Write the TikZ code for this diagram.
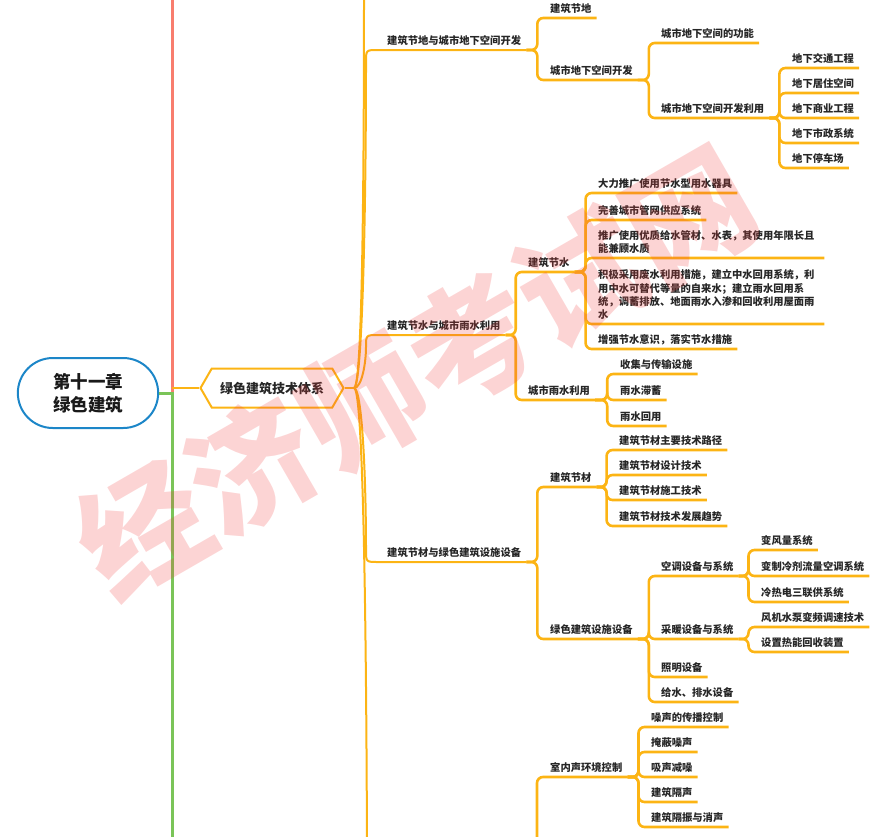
\documentclass[tikz,border=0pt]{standalone}
\usepackage{fontspec}
\newfontfamily\cjk{Noto Sans CJK SC}
\usetikzlibrary{shapes.misc,shapes.symbols}
\definecolor{branch}{RGB}{252,180,20}
\definecolor{rootblue}{RGB}{28,134,200}
\definecolor{upred}{RGB}{248,125,110}
\definecolor{downgreen}{RGB}{122,196,88}
\definecolor{stamp}{RGB}{240,60,60}
\begin{document}
\begin{tikzpicture}[x=1pt,y=-1pt,
  topic/.style={anchor=south west,inner xsep=5pt,inner ysep=4pt,align=left,text=black!85,
    font=\cjk\bfseries\fontsize{10.3}{13.3}\selectfont},
  link/.style={branch,line width=2.6pt,rounded corners=6pt},
  trunk/.style={branch,line width=2pt}]
  \useasboundingbox (0,0) rectangle (877,836);
  \clip (0,0) rectangle (877,836);
  % root and the two neighbour branches
  \node[rounded rectangle,draw=rootblue,line width=2pt,minimum width=147pt,minimum height=70pt,
    align=center,text=black!90,font=\cjk\bfseries\fontsize{17.5}{23}\selectfont] (root) at (88,393) {第十一章\\绿色建筑};
  \coordinate (rj) at (172,393);
  \coordinate (hj) at (172,388);
  \coordinate (rtop) at (172,-10);
  \coordinate (rbot) at (172,850);
  \draw[upred,line width=3pt] (rj) -- (rtop);
  \draw[downgreen,line width=3pt] (root.east) -- (rj) -- (rbot);
  \node[signal,signal to=west and east,signal pointer angle=120,draw=branch,line width=2pt,fill=white,
    minimum width=143pt,minimum height=39pt,text=black!85,font=\cjk\bfseries\fontsize{13}{16}\selectfont] (hex) at (272,388) {绿色建筑技术体系};
  \draw[trunk,line width=1.5pt] (hj) -- (hex.west);
  % trunk
  \coordinate (hub) at (354,388);
  \coordinate (up) at (364,-10);
  \coordinate (down) at (367,850);
  \draw[trunk] (hex.east) -- (hub);
  \draw[trunk] (hub) .. controls (362,388) and (364,200) .. (up);
  \draw[trunk] (hub) .. controls (362,388) and (366,560) .. (down);
  \node[topic] (b1) at (382,50) {建筑节地与城市地下空间开发};
  \node[topic] (b2) at (382,335) {建筑节水与城市雨水利用};
  \node[topic] (b3) at (382,562) {建筑节材与绿色建筑设施设备};
  \foreach \b/\y/\m/\e in {b1/50/220/62,b2/335/362/347,b3/562/475/550}
    \draw[trunk] (hub) .. controls (362,388) and (366,\m) .. (366,\e)
      .. controls (366,\y) .. (378,\y) -- (\b.south east);
  % 建筑节地与城市地下空间开发
  \node[topic] (b1a) at (545,18) {建筑节地};
  \node[topic] (b1b) at (545,80) {城市地下空间开发};
  \node[topic] (b1b1) at (656,43) {城市地下空间的功能};
  \node[topic] (b1b2) at (656,118) {城市地下空间开发利用};
  \foreach \n/\y/\t in {1/68/地下交通工程,2/93/地下居住空间,3/118/地下商业工程,4/143/地下市政系统,5/168/地下停车场}
    \node[topic] (ug\n) at (787,\y) {\t};
  \foreach \c in {b1a,b1b}
    \draw[link] (b1.south east) -- ++(11,0) |- (\c.south east);
  \foreach \c in {b1b1,b1b2}
    \draw[link] (b1b.south east) -- ++(11,0) |- (\c.south east);
  \foreach \n in {1,...,5}
    \draw[link] (b1b2.south east) -- ++(10,0) |- (ug\n.south east);
  % 建筑节水与城市雨水利用
  \node[topic] (b2a) at (523,272) {建筑节水};
  \node[topic] (b2b) at (523,400) {城市雨水利用};
  \node[topic] (sw1) at (593,193) {大力推广使用节水型用水器具};
  \node[topic] (sw2) at (593,220) {完善城市管网供应系统};
  \node[topic,text width=221pt] (sw3) at (593,258) {推广使用优质给水管材、水表，其使用年限长且\\能兼顾水质};
  \node[topic,text width=221pt] (sw4) at (593,324) {积极采用废水利用措施，建立中水回用系统，利\\用中水可替代等量的自来水；建立雨水回用系\\统，调蓄排放、地面雨水入渗和回收利用屋面雨\\水};
  \node[topic] (sw5) at (593,349) {增强节水意识，落实节水措施};
  \foreach \n/\y/\t in {1/374/收集与传输设施,2/400/雨水滞蓄,3/426/雨水回用}
    \node[topic] (rw\n) at (615,\y) {\t};
  \foreach \c in {b2a,b2b}
    \draw[link] (b2.south east) -- ++(10,0) |- (\c.south east);
  \foreach \n in {1,...,5}
    \draw[link] (b2a.south east) -- ++(11,0) |- (sw\n.south east);
  \foreach \n in {1,2,3}
    \draw[link] (b2b.south east) -- ++(12,0) |- (rw\n.south east);
  % 建筑节材与绿色建筑设施设备
  \node[topic] (b3a) at (545,487) {建筑节材};
  \node[topic] (b3b) at (545,639) {绿色建筑设施设备};
  \foreach \n/\y/\t in {1/450/建筑节材主要技术路径,2/475/建筑节材设计技术,3/500/建筑节材施工技术,4/526/建筑节材技术发展趋势}
    \node[topic] (sm\n) at (614,\y) {\t};
  \node[topic] (eq1) at (656,576) {空调设备与系统};
  \node[topic] (eq2) at (656,639) {采暖设备与系统};
  \node[topic] (eq3) at (656,677) {照明设备};
  \node[topic] (eq4) at (656,702) {给水、排水设备};
  \foreach \n/\y/\t in {1/550/变风量系统,2/576/变制冷剂流量空调系统,3/602/冷热电三联供系统}
    \node[topic] (ac\n) at (756,\y) {\t};
  \foreach \n/\y/\t in {1/627/风机水泵变频调速技术,2/652/设置热能回收装置}
    \node[topic] (ht\n) at (756,\y) {\t};
  \foreach \c in {b3a,b3b}
    \draw[link] (b3.south east) -- ++(11,0) |- (\c.south east);
  \foreach \n in {1,...,4}
    \draw[link] (b3a.south east) -- ++(10,0) |- (sm\n.south east);
  \foreach \n in {1,...,4}
    \draw[link] (b3b.south east) -- ++(11,0) |- (eq\n.south east);
  \foreach \n in {1,2,3}
    \draw[link] (eq1.south east) -- ++(10,0) |- (ac\n.south east);
  \foreach \n in {1,2}
    \draw[link] (eq2.south east) -- ++(10,0) |- (ht\n.south east);
  % 室内声环境控制
  \coordinate (b4) at (537,900);
  \node[topic] (b4a) at (545,777) {室内声环境控制};
  \foreach \n/\y/\t in {1/727/噪声的传播控制,2/752/掩蔽噪声,3/777/吸声减噪,4/802/建筑隔声,5/827/建筑隔振与消声}
    \node[topic] (sn\n) at (646,\y) {\t};
  \draw[link] (b4) |- (b4a.south east);
  \foreach \n in {1,...,5}
    \draw[link] (b4a.south east) -- ++(11,0) |- (sn\n.south east);
  % watermark
  \node[rotate=30,text=stamp,opacity=0.22,font=\cjk\bfseries\fontsize{126}{126}\selectfont] (mark) at (416,372) {经济师考试网};
\end{tikzpicture}
\end{document}
